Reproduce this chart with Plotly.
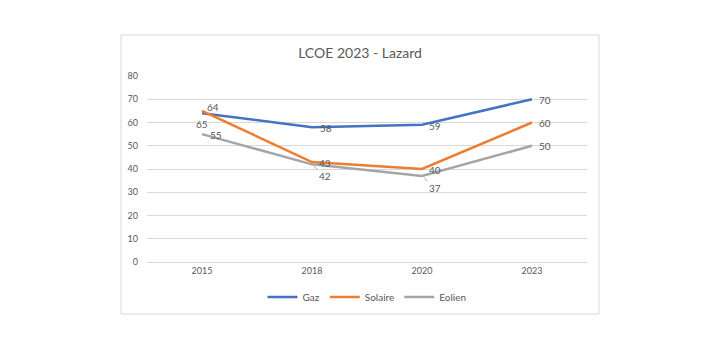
import plotly.graph_objects as go

years = ["2015", "2018", "2020", "2023"]
gaz = [64, 58, 59, 70]
solaire = [65, 43, 40, 60]
eolien = [55, 42, 37, 50]

# label offsets in pixels (dx right, dy down) from each point; leader = label with a leader line
gaz_off = [(11, -6), (14, 1), (13, 1), (13, 1)]
sol_off = [(0, 13), (13, 1), (13, 1), (13, 0)]
eol_off = [(14, 1), (13, 12), (13, 12), (13, 0)]
eol_leader = [False, True, True, False]

FONT = "Lato, Open Sans, sans-serif"
TXT = "#595959"

fig = go.Figure()
annotations = []

def add(name, vals, color, offs, leaders=None):
    fig.add_trace(go.Scatter(
        x=years, y=vals, name=name, mode="lines",
        line=dict(color=color, width=2.5),
    ))
    for i, (v, (dx, dy)) in enumerate(zip(vals, offs)):
        lead = leaders[i] if leaders else False
        a = dict(x=i, y=v, xref="x", yref="y", text=str(v),
                 font=dict(size=10, color=TXT, family=FONT))
        if lead:
            a.update(showarrow=True, arrowhead=0, arrowcolor="#A5A5A5",
                     arrowwidth=1, ax=dx, ay=dy, standoff=3,
                     xanchor="center", yanchor="middle")
        else:
            a.update(showarrow=False, xshift=dx, yshift=-dy,
                     xanchor="center", yanchor="middle")
        annotations.append(a)

add("Gaz", gaz, "#4472C4", gaz_off)
add("Solaire", solaire, "#ED7D31", sol_off)
add("Eolien", eolien, "#A5A5A5", eol_off, eol_leader)

fig.update_layout(
    width=720, height=350,
    margin=dict(l=147, r=133, t=76, b=88),
    paper_bgcolor="white", plot_bgcolor="white",
    title=dict(text="LCOE 2023 - Lazard", x=0.5, xanchor="center",
               y=1 - 53 / 350, yanchor="middle",
               font=dict(size=14, color=TXT, family=FONT)),
    font=dict(family=FONT, color=TXT),
    showlegend=True,
    legend=dict(orientation="h", x=0.5, xanchor="center",
                y=(262 - 297) / 186, yanchor="middle",
                font=dict(size=10, color=TXT, family=FONT),
                itemwidth=30, tracegroupgap=0),
    annotations=annotations,
    shapes=[dict(type="rect", xref="paper", yref="paper",
                 x0=(121 - 147) / 440, x1=(599 - 147) / 440,
                 y0=(262 - 314) / 186, y1=(262 - 35) / 186,
                 line=dict(color="#D9D9D9", width=1), layer="below")],
)
fig.update_xaxes(type="category", range=[-0.5, 3.5], showgrid=False,
                 showline=True, linecolor="#D9D9D9", ticks="",
                 tickfont=dict(size=9, color=TXT, family=FONT))
fig.update_yaxes(range=[0, 80], dtick=10, showgrid=True, gridcolor="#D9D9D9",
                 zeroline=False, showline=False, ticks="",
                 ticklabelstandoff=8,
                 tickfont=dict(size=9, color=TXT, family=FONT))

fig.write_html("out.html")
